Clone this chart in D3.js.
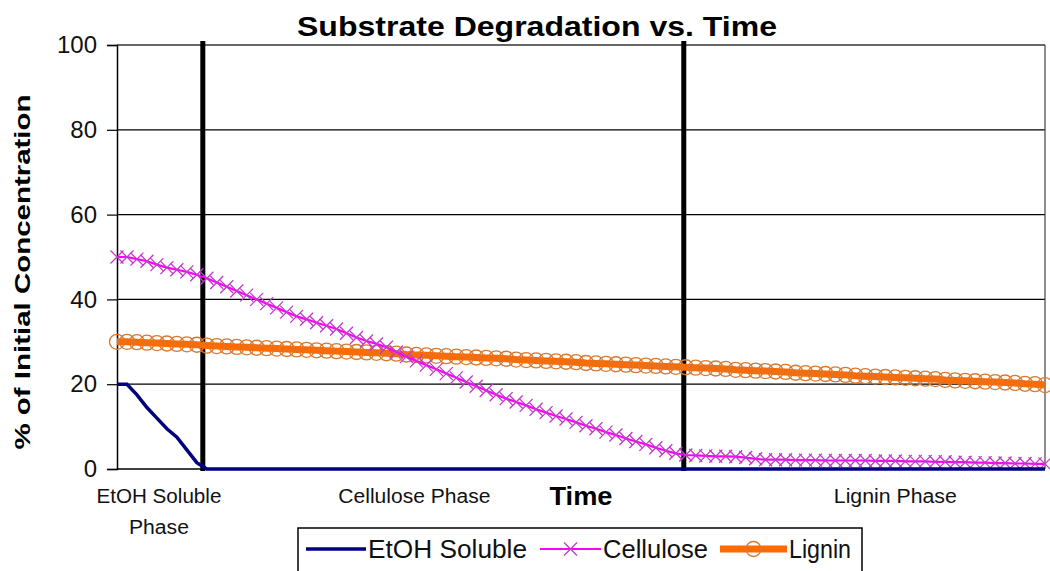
<!DOCTYPE html>
<html><head><meta charset="utf-8">
<script src="https://cdn.jsdelivr.net/npm/d3@7"></script>
<style>body{margin:0;background:#fff}svg{display:block}text{font-family:"Liberation Sans",Arial,sans-serif}</style>
</head><body>
<svg id="c" width="1050" height="571"></svg>
<script>
const yTicks = [0, 20, 40, 60, 80, 100];
const phaseLabels = [
  {text: "EtOH Soluble", x: 4.2, line: 0, len: 125},
  {text: "Phase", x: 4.2, line: 1, len: 60},
  {text: "Cellulose Phase", x: 29.8, line: 0, len: 152},
  {text: "Lignin Phase", x: 78, line: 0, len: 123}
];
const phaseBounds = [8.6, 56.8];
const seriesNames = ["EtOH Soluble", "Cellulose", "Lignin"];
const etoh = [20,20,17.5,14.5,12,9.5,7.5,4.5,1.5,0,
  0,0,0,0,0,0,0,0,0,0, 0,0,0,0,0,0,0,0,0,0, 0,0,0,0,0,0,0,0,0,0,
  0,0,0,0,0,0,0,0,0,0, 0,0,0,0,0,0,0,0,0,0, 0,0,0,0,0,0,0,0,0,0,
  0,0,0,0,0,0,0,0,0,0, 0,0,0,0,0,0,0,0,0,0, 0,0,0,0];
const cellulose = [50,50,49.5,49,48.2,47.5,47,46.5,45.8,45,
  44,43,42,41,40,39,38,37,36,35.3,
  34.5,33.8,33,32,31,30.2,29.5,28.7,27.6,26.5,
  25.5,24.5,23.5,22.5,21.5,20.5,19.5,18.5,17.5,16.6,
  15.8,15,14.1,13.3,12.5,11.8,11,10.2,9.5,8.7,
  8,7.2,6.5,5.8,5,4.3,3.7,3.3,3.2,3.1,
  3,3,2.9,2.7,2.4,2.2,2.2,2.2,2.1,2.1,
  2.1,2,2,2,2,2,1.9,1.9,1.9,1.8,
  1.8,1.8,1.7,1.7,1.6,1.6,1.5,1.5,1.4,1.4,
  1.3,1.3,1.2,1.2];
const lignin = [30,30,29.9,29.8,29.7,29.6,29.5,29.4,29.3,29.1,
  29.0,28.9,28.8,28.7,28.6,28.5,28.4,28.3,28.2,28.1,
  28.0,27.9,27.8,27.7,27.6,27.5,27.4,27.3,27.2,27.0,
  26.9,26.8,26.7,26.6,26.5,26.4,26.3,26.2,26.1,26.0,
  25.8,25.7,25.6,25.5,25.4,25.3,25.2,25.0,24.9,24.8,
  24.7,24.6,24.5,24.4,24.3,24.2,24.1,24.0,23.9,23.8,
  23.7,23.6,23.4,23.3,23.2,23.1,23.0,22.9,22.7,22.6,
  22.5,22.4,22.3,22.2,22.0,21.9,21.8,21.7,21.6,21.5,
  21.4,21.3,21.2,21.0,20.9,20.8,20.7,20.6,20.5,20.4,
  20.3,20.1,20.0,19.8];

const svg = d3.select("#c");
const L = 117, R = 1045, T = 45, B = 469;
const x = d3.scaleLinear().domain([0, etoh.length - 1]).range([L, R]);
const y = d3.scaleLinear().domain([0, 100]).range([B, T]);

// gridlines
svg.append("g").selectAll("line").data(yTicks.filter(d => d > 0)).join("line")
  .attr("x1", L).attr("x2", R).attr("y1", d => y(d)).attr("y2", d => y(d))
  .attr("stroke", d => d === 100 ? "#333" : "#000").attr("stroke-width", d => d === 100 ? 1.5 : 1.2);
svg.append("line").attr("x1", R).attr("x2", R).attr("y1", T).attr("y2", B).attr("stroke", "#444").attr("stroke-width", 1.2);

// y axis
const yAxis = d3.axisLeft(y).tickValues(yTicks).tickSize(10).tickPadding(10);
const ga = svg.append("g").attr("transform", `translate(${L},0)`).call(yAxis);
ga.select(".domain").attr("stroke", "#000").attr("stroke-width", 1.5);
ga.selectAll(".tick line").attr("stroke", "#000").attr("stroke-width", 1.2);
ga.selectAll(".tick text").attr("font-size", 24).attr("fill", "#111")
  .attr("font-family", "'Liberation Sans', Arial, sans-serif");
// x axis
svg.append("line").attr("x1", L).attr("x2", R).attr("y1", B).attr("y2", B).attr("stroke", "#000").attr("stroke-width", 1.5);

// phase boundaries
svg.append("g").selectAll("line").data(phaseBounds).join("line")
  .attr("x1", d => x(d)).attr("x2", d => x(d)).attr("y1", T - 4).attr("y2", B + 2)
  .attr("stroke", "#000").attr("stroke-width", 5);

// lines
const line = d3.line().x((d, i) => x(i)).y(d => y(d));
// Lignin
svg.append("path").datum(lignin).attr("d", line).attr("fill", "none")
  .attr("stroke", "#ff6a00").attr("stroke-width", 7);
svg.append("g").selectAll("circle").data(lignin).join("circle")
  .attr("cx", (d, i) => x(i)).attr("cy", d => y(d)).attr("r", 7.5)
  .attr("fill", "none").attr("stroke", "#d9782e").attr("stroke-width", 1.3);
// Cellulose
svg.append("path").datum(cellulose).attr("d", line).attr("fill", "none")
  .attr("stroke", "#ff00ff").attr("stroke-width", 2.2);
svg.append("g").selectAll("path").data(cellulose).join("path")
  .attr("d", (d, i) => { const cx = x(i), cy = y(d), s = 6.5; return `M${cx-s},${cy-s}L${cx+s},${cy+s}M${cx-s},${cy+s}L${cx+s},${cy-s}`; })
  .attr("stroke", "#c03cc8").attr("stroke-width", 1.3).attr("fill", "none");
// EtOH
svg.append("path").datum(etoh).attr("d", line).attr("fill", "none")
  .attr("stroke", "#000080").attr("stroke-width", 3.5);

// phase labels
svg.append("g").selectAll("text").data(phaseLabels).join("text")
  .attr("x", d => x(d.x)).attr("y", d => 503 + d.line * 31)
  .attr("text-anchor", "middle").attr("font-size", 20).attr("fill", "#111")
  .attr("textLength", d => d.len).attr("lengthAdjust", "spacingAndGlyphs")
  .text(d => d.text);
svg.append("text").attr("x", 581).attr("y", 505).attr("text-anchor", "middle")
  .attr("font-size", 25).attr("font-weight", "bold").attr("fill", "#000")
  .attr("textLength", 63).attr("lengthAdjust", "spacingAndGlyphs").text("Time");

// title
svg.append("text").attr("x", 537).attr("y", 36).attr("text-anchor", "middle")
  .attr("font-size", 28).attr("font-weight", "bold").attr("fill", "#000")
  .attr("textLength", 480).attr("lengthAdjust", "spacingAndGlyphs").text("Substrate Degradation vs. Time");

// y title
svg.append("text").attr("transform", "translate(30,272) rotate(-90)").attr("text-anchor", "middle")
  .attr("font-size", 22).attr("font-weight", "bold").attr("fill", "#000")
  .attr("textLength", 355).attr("lengthAdjust", "spacingAndGlyphs").text("% of Initial Concentration");

// legend
const lg = svg.append("g");
lg.append("rect").attr("x", 298).attr("y", 528).attr("width", 564).attr("height", 60)
  .attr("fill", "#fff").attr("stroke", "#000").attr("stroke-width", 1.5);
const ly = 549;
const legendItems = [
  {name: seriesNames[0], x1: 306, x2: 366, tx: 368, len: 159},
  {name: seriesNames[1], x1: 540, x2: 601, tx: 603, len: 105},
  {name: seriesNames[2], x1: 720, x2: 787, tx: 789, len: 62}
];
legendItems.forEach((it, k) => {
  const col = ["#000080", "#ff00ff", "#ff6a00"][k];
  const sw = [3.5, 2.2, 7][k];
  lg.append("line").attr("x1", it.x1).attr("x2", it.x2).attr("y1", ly).attr("y2", ly)
    .attr("stroke", col).attr("stroke-width", sw);
  const mx = (it.x1 + it.x2) / 2;
  if (k === 1) {
    const s = 6.5;
    lg.append("path").attr("d", `M${mx-s},${ly-s}L${mx+s},${ly+s}M${mx-s},${ly+s}L${mx+s},${ly-s}`)
      .attr("stroke", "#c03cc8").attr("stroke-width", 1.3);
  }
  if (k === 2) {
    lg.append("circle").attr("cx", mx).attr("cy", ly).attr("r", 7.5).attr("fill", "none")
      .attr("stroke", "#d9782e").attr("stroke-width", 1.3);
  }
  lg.append("text").attr("x", it.tx).attr("y", ly + 9).attr("font-size", 25).attr("fill", "#111")
    .attr("textLength", it.len).attr("lengthAdjust", "spacingAndGlyphs").text(it.name);
});
</script>
</body></html>
